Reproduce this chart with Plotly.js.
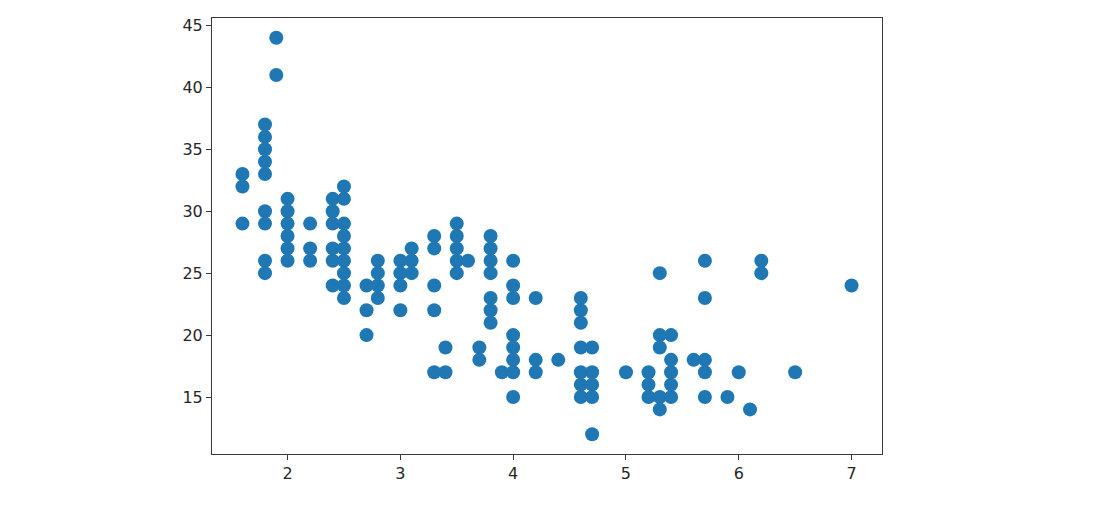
<!DOCTYPE html>
<html>
<head>
<meta charset="utf-8">
<script src="https://cdn.plot.ly/plotly-3.0.1.min.js"></script>
<style>html,body{margin:0;padding:0;background:#fff;}#chart{width:1100px;height:506px;}</style>
</head>
<body>
<div id="chart"></div>
<script>
// engine displacement (litres) and highway mpg
const displ = [
  1.6,1.6,1.6,
  1.8,1.8,1.8,1.8,1.8,1.8,1.8,1.8,1.8,
  1.9,1.9,
  2.0,2.0,2.0,2.0,2.0,2.0,
  2.2,2.2,2.2,
  2.4,2.4,2.4,2.4,2.4,2.4,
  2.5,2.5,2.5,2.5,2.5,2.5,2.5,2.5,2.5,
  2.7,2.7,2.7,
  2.8,2.8,2.8,2.8,
  3.0,3.0,3.0,3.0,
  3.1,3.1,3.1,
  3.3,3.3,3.3,3.3,3.3,
  3.4,3.4,
  3.5,3.5,3.5,3.5,3.5,
  3.6,
  3.7,3.7,
  3.8,3.8,3.8,3.8,3.8,3.8,3.8,
  3.9,
  4.0,4.0,4.0,4.0,4.0,4.0,4.0,4.0,
  4.2,4.2,4.2,
  4.4,
  4.6,4.6,4.6,4.6,4.6,4.6,4.6,
  4.7,4.7,4.7,4.7,4.7,
  5.0,
  5.2,5.2,5.2,
  5.3,5.3,5.3,5.3,5.3,
  5.4,5.4,5.4,5.4,5.4,
  5.6,
  5.7,5.7,5.7,5.7,5.7,
  5.9,
  6.0,
  6.1,
  6.2,6.2,
  6.5,
  7.0
];
const hwy = [
  33,32,29,
  37,36,35,34,33,30,29,26,25,
  44,41,
  31,30,29,28,27,26,
  29,27,26,
  31,30,29,27,26,24,
  32,31,29,28,27,26,25,24,23,
  24,22,20,
  26,25,24,23,
  26,25,24,22,
  27,26,25,
  28,27,24,22,17,
  19,17,
  29,28,27,26,25,
  26,
  19,18,
  28,27,26,25,23,22,21,
  17,
  26,24,23,20,19,18,17,15,
  23,18,17,
  18,
  23,22,21,19,17,16,15,
  19,17,16,15,12,
  17,
  17,16,15,
  25,20,19,15,14,
  20,18,17,16,15,
  18,
  26,23,18,17,15,
  15,
  17,
  14,
  26,25,
  17,
  24
];
const xTicks = [2,3,4,5,6,7];
const yTicks = [15,20,25,30,35,40,45];

const tickFont = {family:'DejaVu Sans, sans-serif', size:16, color:'#262626'};
const axisCommon = {
  showgrid:false, zeroline:false, showline:true, mirror:true,
  linecolor:'#3a3a3a', linewidth:1, ticks:'outside', ticklen:5, tickwidth:1,
  tickcolor:'#3a3a3a', tickfont:tickFont, tickmode:'array'
};
Plotly.newPlot('chart', [{
  type:'scatter', mode:'markers', x:displ, y:hwy,
  marker:{color:'#1f77b4', size:14, line:{width:0}},
  hoverinfo:'x+y'
}], {
  width:1100, height:506,
  margin:{l:212, r:218, t:18, b:52},
  paper_bgcolor:'#fff', plot_bgcolor:'#fff',
  showlegend:false,
  xaxis:Object.assign({}, axisCommon, {range:[1.33,7.27], tickvals:xTicks, ticktext:xTicks.map(String)}),
  yaxis:Object.assign({}, axisCommon, {range:[10.4,45.6], tickvals:yTicks, ticktext:yTicks.map(String)})
}, {displayModeBar:false, staticPlot:true});
</script>
</body>
</html>
